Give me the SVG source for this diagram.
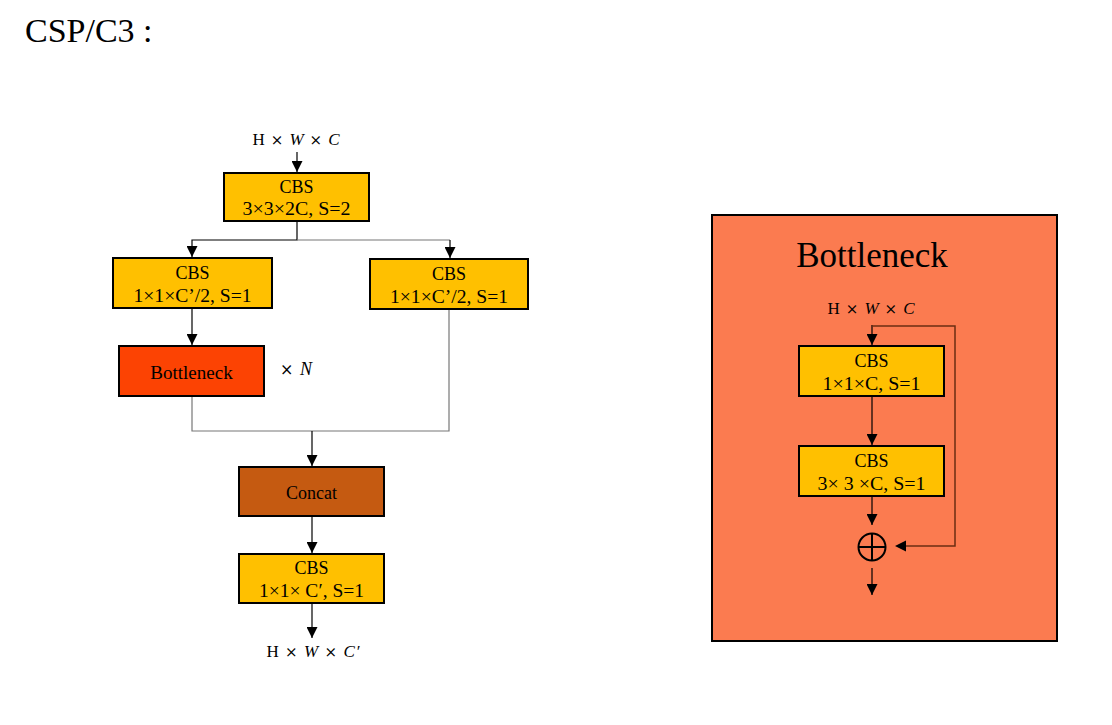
<svg xmlns="http://www.w3.org/2000/svg" width="1112" height="725" viewBox="0 0 1112 725">
<style>
text{font-family:"Liberation Serif","Times New Roman",serif;fill:#000;}
.t{font-size:18px;text-anchor:middle;}
.m{font-size:17px;text-anchor:middle;}
.i{font-style:italic;}
.x{font-family:"DejaVu Serif",serif;font-size:15px;}
.cbs{fill:#FFC000;stroke:#000;stroke-width:2;}
.ln{fill:none;stroke:#000;stroke-width:1.2;}
.gl{fill:none;stroke:#777;stroke-width:1.2;}
.sk{fill:none;stroke:#6B2E12;stroke-width:1.5;}
</style>
<defs>
<marker id="ah" markerWidth="11" markerHeight="11" refX="11" refY="5.5" orient="auto" markerUnits="userSpaceOnUse">
<path d="M0,0 L11,5.5 L0,11 Z" fill="#000"/>
</marker>
</defs>
<rect width="1112" height="725" fill="#fff"/>
<text x="25" y="42" style="font-size:34px">CSP/C3 :</text>

<g id="connectors">
<line class="ln" x1="297" y1="152" x2="297" y2="172" marker-end="url(#ah)"/>
<polyline class="ln" points="297,222 297,240 192,240 192,257" marker-end="url(#ah)"/>
<polyline class="gl" points="297,240 450,240"/>
<line class="ln" x1="450" y1="240" x2="450" y2="258" marker-end="url(#ah)"/>
<line class="ln" x1="192" y1="309" x2="192" y2="345" marker-end="url(#ah)"/>
<polyline class="gl" points="192,396 192,431 312,431"/>
<polyline class="gl" points="449,309 449,431 312,431"/>
<line class="ln" x1="312" y1="431" x2="312" y2="466" marker-end="url(#ah)"/>
<line class="ln" x1="312" y1="517" x2="312" y2="553" marker-end="url(#ah)"/>
<line class="ln" x1="312" y1="604" x2="312" y2="638" marker-end="url(#ah)"/>
</g>

<g id="input-label"><text class="m" x="296" y="145" textLength="87" lengthAdjust="spacing">H <tspan class="x">×</tspan> <tspan class="i">W</tspan> <tspan class="x">×</tspan> <tspan class="i">C</tspan></text></g>

<g id="cbs1">
<rect class="cbs" x="224" y="173" width="145" height="48"/>
<text class="t" x="296.5" y="193">CBS</text>
<text class="t" x="296.5" y="215" textLength="108" lengthAdjust="spacingAndGlyphs">3×3×2C, S=2</text>
</g>
<g id="cbs2">
<rect class="cbs" x="113" y="258" width="159" height="50"/>
<text class="t" x="192.5" y="279">CBS</text>
<text class="t" x="192.5" y="302" textLength="118" lengthAdjust="spacingAndGlyphs">1×1×C’/2, S=1</text>
</g>
<g id="cbs3">
<rect class="cbs" x="370" y="259" width="158" height="50"/>
<text class="t" x="449" y="280">CBS</text>
<text class="t" x="449" y="303" textLength="118" lengthAdjust="spacingAndGlyphs">1×1×C’/2, S=1</text>
</g>
<g id="bottleneck">
<rect x="119" y="346" width="145" height="50" fill="#FC4303" stroke="#000" stroke-width="2"/>
<text class="t" x="191.5" y="379" style="font-size:19px">Bottleneck</text>
</g>
<g id="timesN"><text x="280" y="375" style="font-size:18px" textLength="32" lengthAdjust="spacing"><tspan class="x" style="font-size:16px">×</tspan> <tspan class="i">N</tspan></text></g>
<g id="concat">
<rect x="239" y="467" width="145" height="49" fill="#C55A11" stroke="#000" stroke-width="2"/>
<text class="t" x="311.5" y="499">Concat</text>
</g>
<g id="cbs4">
<rect class="cbs" x="239" y="554" width="145" height="49"/>
<text class="t" x="311.5" y="574">CBS</text>
<text class="t" x="311.5" y="597" textLength="105" lengthAdjust="spacingAndGlyphs">1×1× C′, S=1</text>
</g>
<g id="output-label"><text class="m" x="313" y="657" textLength="93" lengthAdjust="spacing">H <tspan class="x">×</tspan> <tspan class="i">W</tspan> <tspan class="x">×</tspan> <tspan class="i">C′</tspan></text></g>

<g id="bottleneck-detail">
<rect x="712" y="215" width="345" height="426" fill="#FB7B50" stroke="#000" stroke-width="2"/>
<text x="872" y="267" style="font-size:35px;text-anchor:middle">Bottleneck</text>
<text class="m" x="871" y="314" textLength="87" lengthAdjust="spacing">H <tspan class="x">×</tspan> <tspan class="i">W</tspan> <tspan class="x">×</tspan> <tspan class="i">C</tspan></text>
</g>
<g id="bn-connectors">
<line class="ln" x1="872" y1="325" x2="872" y2="345" marker-end="url(#ah)"/>
<line class="ln" x1="872" y1="397" x2="872" y2="445" marker-end="url(#ah)"/>
<line class="ln" x1="872" y1="497" x2="872" y2="525" marker-end="url(#ah)"/>
<line class="ln" x1="872" y1="568" x2="872" y2="595" marker-end="url(#ah)"/>
<polyline class="sk" points="872,326 955,326 955,546 905,546"/>
<path d="M895,546 L906,540.5 L906,551.5 Z" fill="#000"/>
</g>
<g id="bn-cbs1">
<rect class="cbs" x="799" y="346" width="145" height="50"/>
<text class="t" x="871.5" y="367">CBS</text>
<text class="t" x="871.5" y="390" textLength="98" lengthAdjust="spacingAndGlyphs">1×1×C, S=1</text>
</g>
<g id="bn-cbs2">
<rect class="cbs" x="799" y="446" width="145" height="50"/>
<text class="t" x="871.5" y="467">CBS</text>
<text class="t" x="871.5" y="490" textLength="108" lengthAdjust="spacingAndGlyphs">3× 3 ×C, S=1</text>
</g>
<g id="add">
<circle cx="872" cy="547" r="13.5" fill="none" stroke="#000" stroke-width="2"/>
<line x1="858.5" y1="547" x2="885.5" y2="547" stroke="#000" stroke-width="2"/>
<line x1="872" y1="533.5" x2="872" y2="560.5" stroke="#000" stroke-width="2"/>
</g>
</svg>
